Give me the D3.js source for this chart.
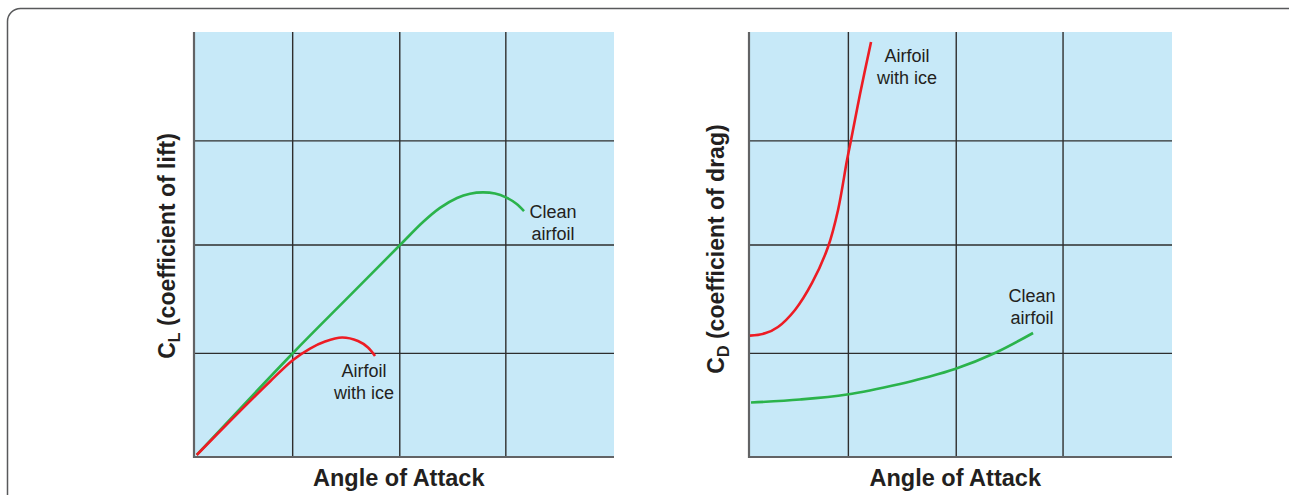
<!DOCTYPE html>
<html><head><meta charset="utf-8">
<script src="https://cdn.jsdelivr.net/npm/d3@7"></script>
<style>
html,body{margin:0;padding:0;background:#fff;}
svg{display:block;font-family:"Liberation Sans",Arial,Helvetica,sans-serif;}
</style>
</head><body>
<svg id="chart" width="1289" height="495"></svg>
<script>
// ---------- DATA ----------
const xGridTicks = [0, 0.935, 1.955, 2.965, 4];
const yGridTicks = [0, 0.98, 2, 2.98, 4];

// Lift chart (C_L vs angle of attack)
const liftCleanX = [0.026, 0.943, 1.486, 1.962, 2.181, 2.343, 2.505, 2.629, 2.752, 2.867, 2.971, 3.067, 3.143];
const liftCleanY = [0.019, 0.979, 1.521, 1.995, 2.212, 2.345, 2.438, 2.478, 2.491, 2.480, 2.444, 2.386, 2.315];
const liftIceX   = [0.026, 0.438, 0.724, 0.943, 1.105, 1.248, 1.410, 1.562, 1.657, 1.724];
const liftIceY   = [0.019, 0.433, 0.711, 0.913, 1.021, 1.087, 1.125, 1.092, 1.031, 0.951];

// Drag chart (C_D vs angle of attack)
const dragIceX   = [0.009, 0.151, 0.274, 0.435, 0.596, 0.747, 0.842, 0.927, 0.965, 1.050, 1.154];
const dragIceY   = [1.142, 1.164, 1.224, 1.384, 1.638, 1.976, 2.325, 2.795, 2.984, 3.416, 3.906];
const dragCleanX = [0.019, 0.482, 0.927, 1.428, 1.664, 1.948, 2.326, 2.686];
const dragCleanY = [0.513, 0.541, 0.588, 0.687, 0.746, 0.828, 0.979, 1.167];

const xTitle = "Angle of Attack";
const liftTitle = {main: "C", sub: "L", rest: " (coefficient of lift)"};
const dragTitle = {main: "C", sub: "D", rest: " (coefficient of drag)"};
const labelClean = ["Clean", "airfoil"];
const labelIce = ["Airfoil", "with ice"];

// ---------- LAYOUT ----------
const svg = d3.select("#chart");
const colors = {bg: "#c7e9f8", grid: "#2e2e2e", axis: "#626365", red: "#ed1c24", green: "#2bb34b", text: "#231f20"};

// outer rounded frame
svg.append("rect").attr("x", 7.5).attr("y", 8.5).attr("width", 1400).attr("height", 700)
  .attr("rx", 13).attr("fill", "none").attr("stroke", "#58595b").attr("stroke-width", 1.5);

function zip(xs, ys){ return xs.map((x,i)=>({x, y: ys[i]})); }

function panel(opt){
  const x = d3.scaleLinear().domain([0, 4]).range([opt.left, opt.right]);
  const y = d3.scaleLinear().domain([0, 4]).range([457, 32]);
  const g = svg.append("g");
  g.append("rect").attr("x", x(0)).attr("y", y(4)).attr("width", x(4)-x(0)).attr("height", y(0)-y(4)).attr("fill", colors.bg);

  // grid via axes
  const gx = g.append("g").attr("transform", `translate(0,${y(0)})`)
    .call(d3.axisBottom(x).tickValues(xGridTicks.slice(1, -1)).tickSize(-(y(0)-y(4))).tickFormat(""));
  const gy = g.append("g").attr("transform", `translate(${x(0)},0)`)
    .call(d3.axisLeft(y).tickValues(yGridTicks.slice(1, -1)).tickSize(-(x(4)-x(0))).tickFormat(""));
  [gx, gy].forEach(a => {
    a.select(".domain").remove();
    a.selectAll(".tick line").attr("stroke", colors.grid).attr("stroke-width", 1.4);
  });
  // left & bottom axis lines
  g.append("line").attr("x1", x(0)).attr("x2", x(0)).attr("y1", y(4)).attr("y2", y(0)+1)
    .attr("stroke", colors.axis).attr("stroke-width", 2.2);
  g.append("line").attr("x1", x(0)-1).attr("x2", x(4)).attr("y1", y(0)).attr("y2", y(0))
    .attr("stroke", colors.axis).attr("stroke-width", 2.2);

  const line = d3.line().x(d => x(d.x)).y(d => y(d.y)).curve(d3.curveCatmullRom.alpha(0.5));
  opt.series.forEach(s => {
    g.append("path").datum(zip(s.xs, s.ys)).attr("d", line)
      .attr("fill", "none").attr("stroke", s.color).attr("stroke-width", 2.6)
      .attr("stroke-linecap", "butt");
  });

  // curve labels
  opt.labels.forEach(l => {
    const t = g.append("text").attr("text-anchor", "middle").attr("fill", colors.text)
      .attr("font-size", 18).attr("x", l.x).attr("y", l.y);
    l.lines.forEach((s, i) => t.append("tspan").attr("x", l.x).attr("dy", i === 0 ? 0 : 21.5).text(s));
  });

  // x title
  g.append("text").attr("x", x(1.95)).attr("y", 486).attr("text-anchor", "middle")
    .attr("font-size", 23.5).attr("font-weight", "bold").attr("fill", colors.text).text(xTitle);

  // y title
  const yt = g.append("text").attr("transform", `translate(${opt.ytx},${opt.yty}) rotate(-90)`)
    .attr("text-anchor", "middle").attr("font-size", 23).attr("font-weight", "bold").attr("fill", colors.text);
  yt.append("tspan").text(opt.ytitle.main);
  yt.append("tspan").attr("font-size", 16).attr("dy", 5).text(opt.ytitle.sub);
  yt.append("tspan").attr("dy", -5).text(opt.ytitle.rest);
}

panel({
  left: 194, right: 614, ytx: 175, yty: 246, ytitle: liftTitle,
  series: [
    {xs: liftCleanX, ys: liftCleanY, color: colors.green},
    {xs: liftIceX, ys: liftIceY, color: colors.red}
  ],
  labels: [
    {x: 553, y: 218, lines: labelClean},
    {x: 364, y: 377, lines: labelIce}
  ]
});

panel({
  left: 749, right: 1172, ytx: 724, yty: 249, ytitle: dragTitle,
  series: [
    {xs: dragCleanX, ys: dragCleanY, color: colors.green},
    {xs: dragIceX, ys: dragIceY, color: colors.red}
  ],
  labels: [
    {x: 907, y: 62, lines: labelIce},
    {x: 1032, y: 302, lines: labelClean}
  ]
});
</script>
</body></html>
